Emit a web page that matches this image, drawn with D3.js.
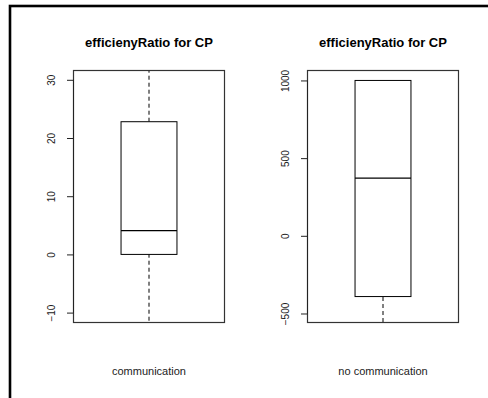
<!DOCTYPE html>
<html>
<head>
<meta charset="utf-8">
<script src="https://cdn.jsdelivr.net/npm/d3@7"></script>
<style>
  body { margin: 0; background: #fff; }
  svg { display: block; font-family: "Liberation Sans", Arial, Helvetica, sans-serif; }
</style>
</head>
<body>
<svg id="chart" width="488" height="398"></svg>
<script>
// Data
const groups = ["communication", "no communication"];
const titles = ["efficienyRatio for CP", "efficienyRatio for CP"];
const yDomains = [[-11.7, 31.6], [-558, 1064]];
const yTicks = [[-10, 0, 10, 20, 30], [-500, 0, 500, 1000]];
const whiskerLow = [-15, -600];
const q1 = [0, -391];
const median = [4.1, 371];
const q3 = [22.8, 1000];
const whiskerHigh = [35, 1000];

const svg = d3.select("#chart");

// figure frame (only top and left edges are visible)
svg.append("rect")
    .attr("x", 10).attr("y", 6)
    .attr("width", 600).attr("height", 500)
    .attr("fill", "none")
    .attr("stroke", "#000")
    .attr("stroke-width", 2.6);

const panels = [
    { left: 73.5, right: 224.5 },
    { left: 307.5, right: 458.5 }
];
const plotTop = 70.5, plotBottom = 322.5;

panels.forEach((p, i) => {
    const g = svg.append("g");
    const x = d3.scaleLinear().domain([0.46, 1.54]).range([p.left, p.right]);
    const y = d3.scaleLinear().domain(yDomains[i]).range([plotBottom, plotTop]);
    const cx = x(1);

    const clipId = "clip" + i;
    svg.append("clipPath").attr("id", clipId)
        .append("rect")
        .attr("x", p.left).attr("y", plotTop)
        .attr("width", p.right - p.left).attr("height", plotBottom - plotTop);

    const plot = g.append("g").attr("clip-path", `url(#${clipId})`);

    // whiskers
    [[whiskerLow[i], q1[i]], [q3[i], whiskerHigh[i]]].forEach(([a, b]) => {
        if (a === b) return;
        plot.append("line")
            .attr("x1", cx).attr("x2", cx)
            .attr("y1", y(a)).attr("y2", y(b))
            .attr("stroke", "#000")
            .attr("stroke-dasharray", "4,3");
    });

    // box
    plot.append("rect")
        .attr("x", x(0.8)).attr("width", x(1.2) - x(0.8))
        .attr("y", y(q3[i])).attr("height", y(q1[i]) - y(q3[i]))
        .attr("fill", "#fff")
        .attr("stroke", "#000");

    plot.append("line")
        .attr("x1", x(0.8)).attr("x2", x(1.2))
        .attr("y1", y(median[i])).attr("y2", y(median[i]))
        .attr("stroke", "#000")
        .attr("stroke-width", 1.2);

    // plot frame
    g.append("rect")
        .attr("x", p.left).attr("y", plotTop)
        .attr("width", p.right - p.left).attr("height", plotBottom - plotTop)
        .attr("fill", "none")
        .attr("stroke", "#333")
        .attr("stroke-width", 1.2);

    // y axis
    const axis = d3.axisLeft(y).tickValues(yTicks[i]).tickSize(6.5).tickPadding(12)
        .tickFormat(d => d < 0 ? "\u2212" + Math.abs(d) : d);
    const ax = g.append("g")
        .attr("transform", `translate(${p.left},0)`)
        .call(axis);
    ax.select(".domain")
        .attr("d", `M0,${y(yTicks[i][0])}V${y(yTicks[i][yTicks[i].length - 1])}`)
        .attr("stroke", "#222");
    ax.selectAll(".tick line").attr("stroke", "#222");
    ax.selectAll(".tick text")
        .attr("transform", "rotate(-90)")
        .attr("x", 0)
        .attr("y", -18.5)
        .attr("dy", 0)
        .attr("text-anchor", "middle")
        .attr("fill", "#222")
        .style("font-size", "10px")
        .style("font-family", "'Liberation Sans', Arial, sans-serif");

    // title
    g.append("text")
        .attr("x", (p.left + p.right) / 2)
        .attr("y", 46.5)
        .attr("text-anchor", "middle")
        .style("font-weight", "bold")
        .style("font-size", "13px")
        .text(titles[i]);

    // group label
    g.append("text")
        .attr("x", cx)
        .attr("y", 374.5)
        .attr("text-anchor", "middle")
        .attr("fill", "#222")
        .style("font-size", "11px")
        .text(groups[i]);
});
</script>
</body>
</html>
